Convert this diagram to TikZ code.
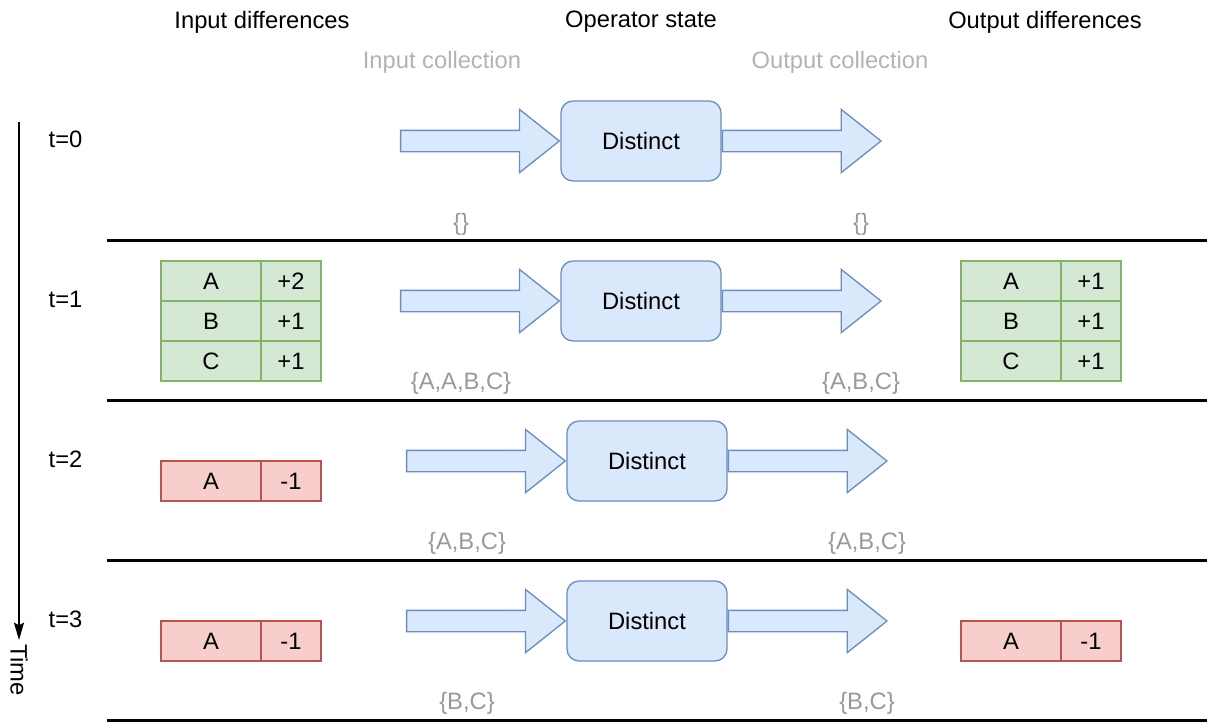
\documentclass[tikz,border=0pt]{standalone}
\usepackage{fontspec}
\setmainfont{Liberation Sans}
\usetikzlibrary{shapes.arrows,arrows.meta}
\definecolor{opfill}{HTML}{DAE8FC}
\definecolor{opline}{HTML}{6C8EBF}
\definecolor{addfill}{HTML}{D5E8D4}
\definecolor{addline}{HTML}{82B366}
\definecolor{subfill}{HTML}{F8CECC}
\definecolor{subline}{HTML}{B85450}
\definecolor{collgray}{HTML}{B3B3B3}
\definecolor{setgray}{HTML}{999999}
\begin{document}
\begin{tikzpicture}[x=0.75pt, y=-0.75pt, font=\fontsize{17.8}{21}\selectfont,
  op node/.style={rectangle,rounded corners=9pt,draw=opline,fill=opfill,line width=1pt,minimum width=120pt,minimum height=60pt},
  fat arrow/.style={single arrow,draw=opline,fill=opfill,line width=1pt,minimum height=119pt,inner xsep=0pt,inner ysep=7.5pt,single arrow head extend=15.75pt,single arrow tip angle=77,single arrow head indent=0pt},
  cell/.style={rectangle,draw,line width=1pt,minimum height=30pt,inner sep=0pt},
  key cell/.style={cell,minimum width=75pt},
  val cell/.style={cell,minimum width=45pt},
  add/.style={fill=addfill,draw=addline},
  sub/.style={fill=subfill,draw=subline},
  sep line/.style={line width=2.25pt},
  coll label/.style={text=collgray},
  set label/.style={text=setgray}]
\useasboundingbox (0,0) rectangle (1212,726);
% headings
\node (hin) at (262,22) {Input differences};
\node (hop) at (641,22) {Operator state};
\node (hout) at (1045,22) {Output differences};
\node[coll label] (cin) at (442,62) {Input collection};
\node[coll label] (cout) at (840,62) {Output collection};
% time axis
\coordinate (tstart) at (19,122);
\coordinate (tend) at (19,640);
\draw[line width=1.5pt,-{Stealth[length=13pt,width=7.5pt,inset=2pt]}] (tstart) -- (tend);
\node[rotate=-90] (time) at (19,670) {Time};
% rows
\foreach \i/\y/\dx in {0/141/0,1/301/0,2/461/6,3/621/6}{
  \node[anchor=west] (t\i) at (44,\y-2) {t=\i};
  \node[op node] (op\i) at (641+\dx,\y) {Distinct};
  \node[fat arrow,anchor=tip] (in\i) at (op\i.west) {};
  \node[fat arrow,anchor=tail] (out\i) at (op\i.east) {};
  \draw[sep line] (107,\y+99) -- (1207,\y+99);
}
% collections
\node[set label] (s0in) at (461,224) {\{\}};
\node[set label] (s0out) at (861,224) {\{\}};
\node[set label] (s1in) at (461,383) {\{A,A,B,C\}};
\node[set label] (s1out) at (861,383) {\{A,B,C\}};
\node[set label] (s2in) at (467,543) {\{A,B,C\}};
\node[set label] (s2out) at (867,543) {\{A,B,C\}};
\node[set label] (s3in) at (467,703) {\{B,C\}};
\node[set label] (s3out) at (867,703) {\{B,C\}};
% differences t=1
\node[key cell,add] (i1a) at (211,281) {A};
\node[val cell,add] (i1av) at (291,281) {+2};
\node[key cell,add] (i1b) at (211,321) {B};
\node[val cell,add] (i1bv) at (291,321) {+1};
\node[key cell,add] (i1c) at (211,361) {C};
\node[val cell,add] (i1cv) at (291,361) {+1};
\node[key cell,add] (o1a) at (1011,281) {A};
\node[val cell,add] (o1av) at (1091,281) {+1};
\node[key cell,add] (o1b) at (1011,321) {B};
\node[val cell,add] (o1bv) at (1091,321) {+1};
\node[key cell,add] (o1c) at (1011,361) {C};
\node[val cell,add] (o1cv) at (1091,361) {+1};
% differences t=2, t=3
\node[key cell,sub] (i2a) at (211,481) {A};
\node[val cell,sub] (i2av) at (291,481) {-1};
\node[key cell,sub] (i3a) at (211,641) {A};
\node[val cell,sub] (i3av) at (291,641) {-1};
\node[key cell,sub] (o3a) at (1011,641) {A};
\node[val cell,sub] (o3av) at (1091,641) {-1};
\end{tikzpicture}
\end{document}
